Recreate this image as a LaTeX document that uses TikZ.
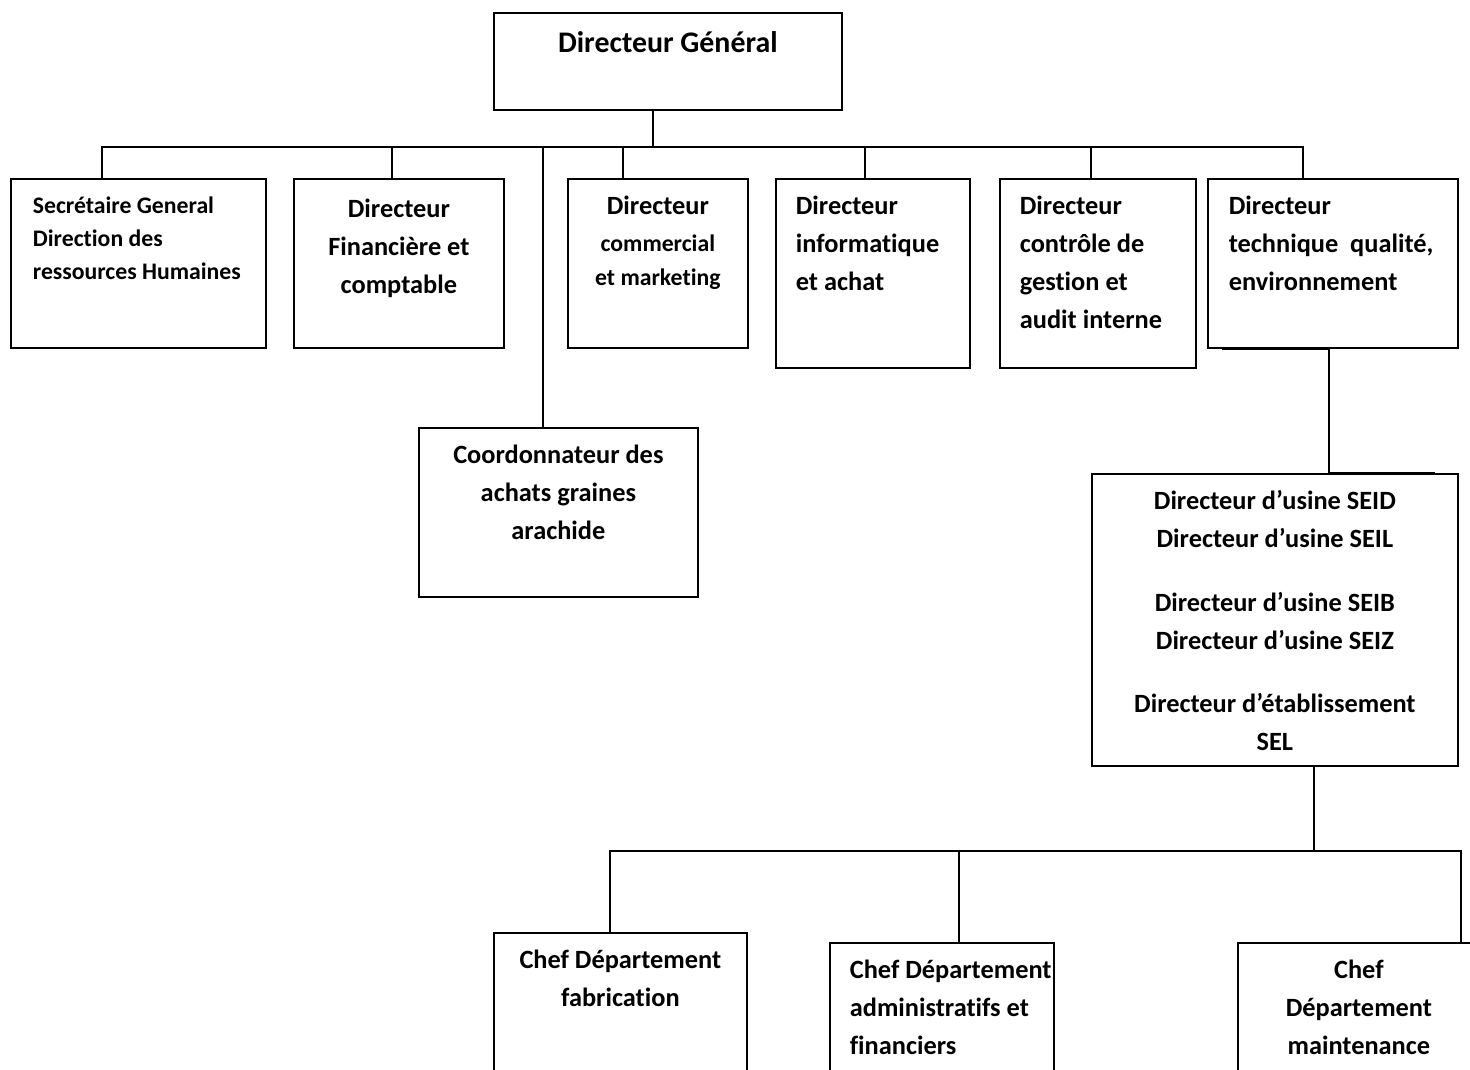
\documentclass[tikz,border=0pt]{standalone}
\usepackage{fontspec}
\setmainfont[Ligatures=NoCommon]{Carlito}
\usetikzlibrary{positioning}
\begin{document}
\begin{tikzpicture}[line width=1pt,
  box/.style={draw,inner sep=0pt,anchor=north west},
  txt/.style={inner sep=0pt,align=center,font=\bfseries\fontsize{15}{21.6}\selectfont},
  sml/.style={inner sep=0pt,align=left,font=\bfseries\fontsize{13.5}{19}\selectfont}]
\clip (0,0) rectangle (29.4,-21.4);
% boxes
\node[box,minimum width=6.96cm,minimum height=1.94cm](dg) at (9.86,-0.24){};
\node[box,minimum width=5.10cm,minimum height=3.38cm](b1) at (0.20,-3.56){};
\node[box,minimum width=4.20cm,minimum height=3.38cm](b2) at (5.86,-3.56){};
\node[box,minimum width=3.60cm,minimum height=3.38cm](b3) at (11.34,-3.56){};
\node[box,minimum width=3.88cm,minimum height=3.78cm](b4) at (15.50,-3.56){};
\node[box,minimum width=3.92cm,minimum height=3.78cm](b5) at (19.98,-3.56){};
\node[box,minimum width=5.00cm,minimum height=3.38cm](b6) at (24.14,-3.56){};
\node[box,minimum width=5.58cm,minimum height=3.38cm](co) at (8.36,-8.54){};
\node[box,minimum width=7.32cm,minimum height=5.84cm](us) at (21.82,-9.46){};
\node[box,minimum width=5.06cm,minimum height=3cm](c1) at (9.86,-18.64){};
\node[box,minimum width=4.48cm,minimum height=3cm](c2) at (16.58,-18.84){};
\node[box,minimum width=4.84cm,minimum height=3cm](c3) at (24.74,-18.84){};
% texts
\node[txt,font=\bfseries\fontsize{17}{20}\selectfont,below=0.37cm of dg.north](dg-t){Directeur Général};
\node[sml,below right=0.35cm and 0.44cm of b1.north west](b1-t){Secrétaire General\\Direction des\\ressources Humaines};
\node[txt,below=0.41cm of b2.north](b2-t){Directeur\\Financière et\\comptable};
\node[sml,align=center,below=0.35cm of b3.north](b3-t){{\fontsize{15}{21.6}\selectfont Directeur}\\[2pt]commercial\\et marketing};
\node[txt,align=left,below right=0.35cm and 0.40cm of b4.north west](b4-t){Directeur\\informatique\\et achat};
\node[txt,align=left,below right=0.35cm and 0.40cm of b5.north west](b5-t){Directeur\\contrôle de\\gestion et\\audit interne};
\node[txt,align=left,below right=0.35cm and 0.42cm of b6.north west](b6-t){Directeur\\technique\ \ qualité,\\environnement};
\node[txt,below=0.35cm of co.north](co-t){Coordonnateur des\\achats graines\\arachide};
\node[txt,below=0.33cm of us.north](us-t){Directeur d’usine SEID\\Directeur d’usine SEIL\\[0.52cm]Directeur d’usine SEIB\\Directeur d’usine SEIZ\\[0.5cm]Directeur d’établissement\\SEL};
\node[txt,below=0.35cm of c1.north](c1-t){Chef Département\\fabrication};
\node[txt,align=left,below right=0.35cm and 0.40cm of c2.north west](c2-t){Chef Département\\administratifs et\\financiers};
\node[txt,below=0.35cm of c3.north](c3-t){Chef\\Département\\maintenance};
% connectors
\coordinate (bus) at (13.06,-2.94);
\draw (dg.south -| bus) -- (bus);
\foreach \n/\x in {b1/2.04,b2/7.84,b3/12.46,b4/17.30,b5/21.82,b6/26.06,co/10.86}
  \draw (\n.north -| \x,0) |- (bus);
\draw (b6.south -| 24.44,0) -| (us.north -| 26.58,0) -- (us.north -| 28.70,0);
\coordinate (bus2) at (26.28,-17.02);
\draw (us.south -| bus2) -- (bus2);
\foreach \n/\x in {c1/12.20,c2/19.18,c3/29.22}
  \draw (\n.north -| \x,0) |- (bus2);
\end{tikzpicture}
\end{document}
